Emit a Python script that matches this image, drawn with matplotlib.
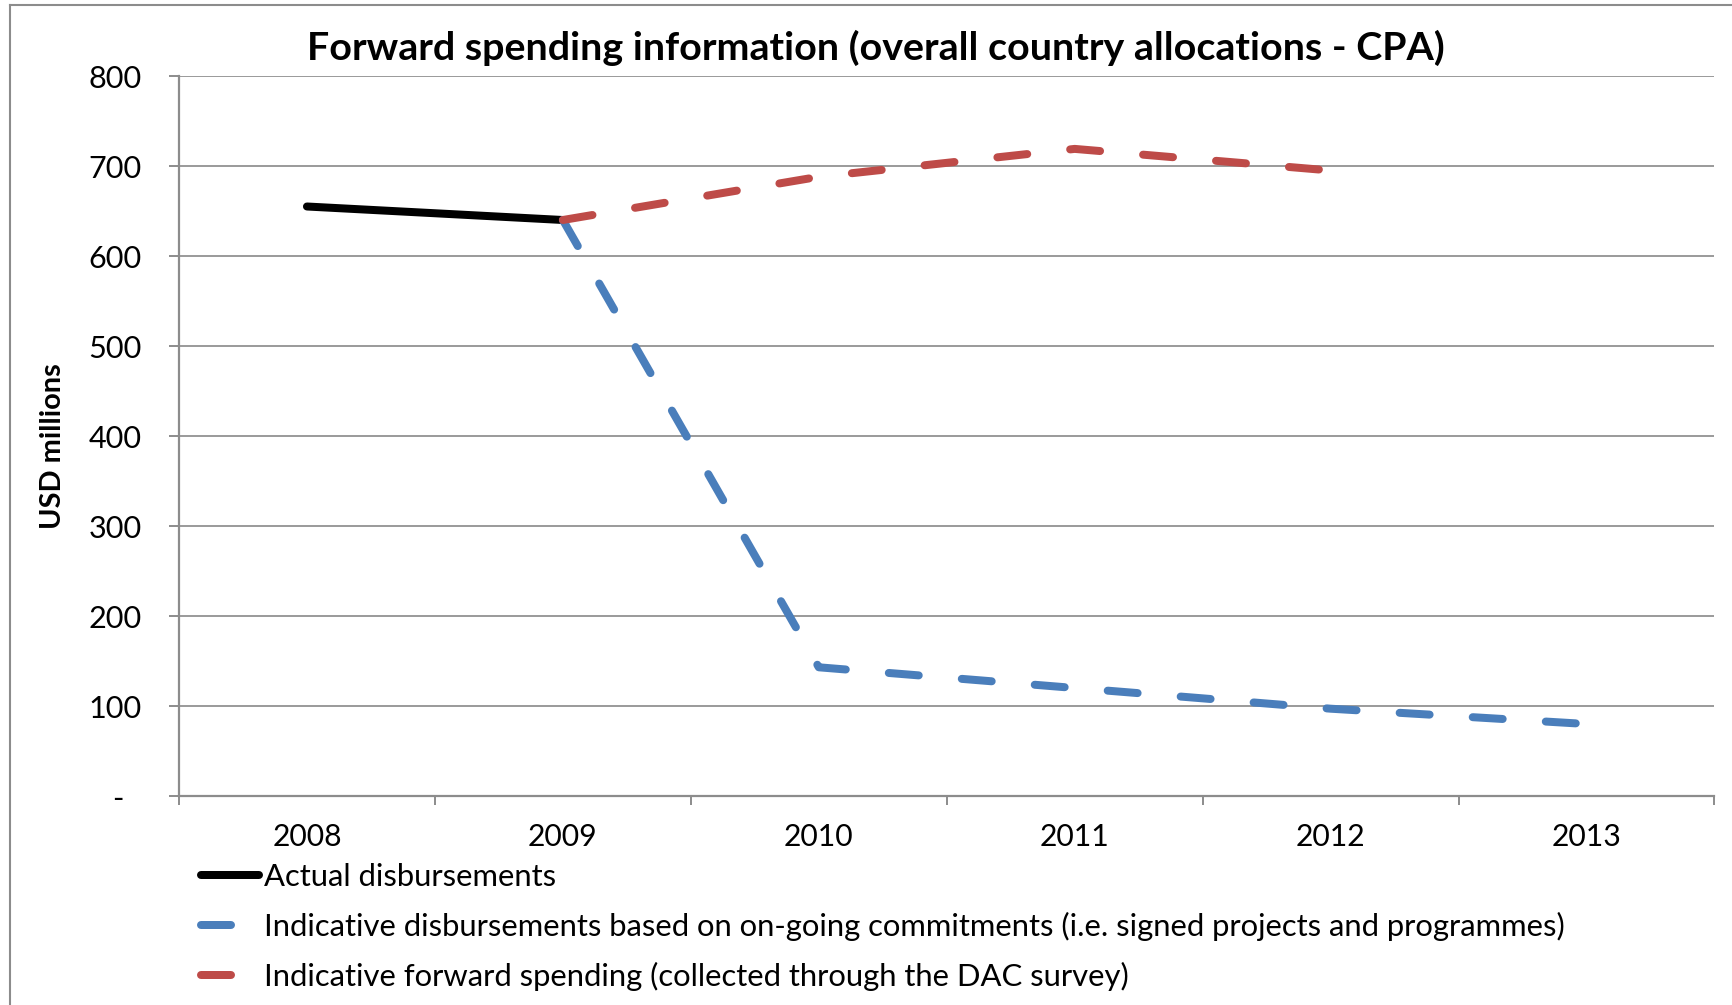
import matplotlib
matplotlib.use("Agg")
import matplotlib.pyplot as plt
import numpy as np
from matplotlib.textpath import TextPath
from matplotlib.font_manager import FontProperties
from matplotlib.lines import Line2D
from matplotlib.transforms import ScaledTranslation

# ---------------- data ----------------
years = ["2008", "2009", "2010", "2011", "2012", "2013"]
actual_years = ["2008", "2009"]
actual_values = [655, 640]
indicative_years = ["2009", "2010", "2011", "2012", "2013"]
indicative_values = [640, 143, 120, 97, 80]
forward_years = ["2009", "2010", "2011", "2012"]
forward_values = [640, 688, 719, 695]
ytick_values = [0, 100, 200, 300, 400, 500, 600, 700, 800]
ytick_labels = ["-", "100", "200", "300", "400", "500", "600", "700", "800"]

title = "Forward spending information (overall country allocations - CPA)"
ylabel = "USD millions"
series_labels = [
    "Actual disbursements",
    "Indicative disbursements based on on-going commitments (i.e. signed projects and programmes)",
    "Indicative forward spending (collected through the DAC survey)",
]

# ---------------- style ----------------
W, H, DPI = 1733, 1005, 100
FAM = "Lato"
BLACK = "#000000"
BLUE = "#4A7EBB"
RED = "#BE4B48"
GRID = "#9A9A9A"
AXC = "#8C8C8C"
LW_PX = 8
LW = LW_PX * 72 / DPI
DASH = (0, (3.75, 5.4))

plt.rcParams["font.family"] = [FAM, "DejaVu Sans"]


def fit_size(s, target_px, weight="normal"):
    fp = FontProperties(family=FAM, weight=weight, size=20)
    w = TextPath((0, 0), s, prop=fp).get_extents().width * DPI / 72
    return 20 * target_px / w


title_fs = fit_size(title, 1132, "bold")
ylab_fs = fit_size(ylabel, 163, "bold")
xt_fs = fit_size("2008", 67)
yt_fs = fit_size("800", 51)
leg_fs = fit_size(series_labels[1], 1298)

fig = plt.figure(figsize=(W / DPI, H / DPI), dpi=DPI)


def fx(px):
    return px / W


def fy(py):
    return 1 - py / H


ax = fig.add_axes([fx(179), fy(796), fx(1714.5) - fx(179), fy(76) - fy(796)])

pos = {y: i for i, y in enumerate(years)}
ax.plot([pos[y] for y in actual_years], actual_values, color=BLACK, lw=LW,
        solid_capstyle="round", label=series_labels[0], zorder=3)
ax.plot([pos[y] for y in indicative_years], indicative_values, color=BLUE, lw=LW,
        linestyle=DASH, dash_capstyle="round", label=series_labels[1], zorder=4)
ax.plot([pos[y] for y in forward_years], forward_values, color=RED, lw=LW,
        linestyle=DASH, dash_capstyle="round", label=series_labels[2], zorder=5)

ax.set_xlim(-0.5, len(years) - 0.5)
ax.set_ylim(0, 800)

ax.set_yticks(ytick_values)
ax.set_yticklabels(ytick_labels, fontsize=yt_fs)
ax.set_xticks(range(len(years)))
ax.set_xticklabels(years, fontsize=xt_fs)
ax.set_xticks(np.arange(-0.5, len(years), 1.0), minor=True)

ax.tick_params(axis="y", length=10 * 0.72, width=1.4, color=AXC, pad=19.5, direction="out")
ax.tick_params(axis="x", which="major", length=0, pad=19.5)
ax.tick_params(axis="x", which="minor", length=9 * 0.72, width=1.4, color=AXC, direction="out")

ax.yaxis.grid(True, color=GRID, lw=1.4)
ax.set_axisbelow(True)
for s in ["top", "right"]:
    ax.spines[s].set_visible(False)
for s in ["left", "bottom"]:
    ax.spines[s].set_color(AXC)
    ax.spines[s].set_linewidth(1.6)

# shift the '-' zero label left (accounting format padding)
zl = ax.get_yticklabels()[0]
zl.set_transform(zl.get_transform() + ScaledTranslation(-18 / DPI, 0, fig.dpi_scale_trans))

fig.text(fx(876), fy(48), title, ha="center", va="center", fontweight="bold", fontsize=title_fs)
fig.text(fx(53), fy(446), ylabel, rotation=90, ha="center", va="center",
         fontweight="bold", fontsize=ylab_fs)

leg_px = leg_fs * DPI / 72
leg = fig.legend(loc="center left", bbox_to_anchor=(fx(201), fy(927)), frameon=False,
                 fontsize=leg_fs, handlelength=58 / leg_px, handletextpad=5 / leg_px,
                 borderpad=0, borderaxespad=0, labelspacing=(57 - 1.17 * leg_px) / leg_px)

# chart-area border
fig.add_artist(Line2D([fx(10), 1.0], [fy(5), fy(5)], transform=fig.transFigure, color=AXC, lw=1.5))
fig.add_artist(Line2D([fx(10), fx(10)], [fy(5), 0.0], transform=fig.transFigure, color=AXC, lw=1.5))

fig.savefig("out.png", dpi=DPI)
